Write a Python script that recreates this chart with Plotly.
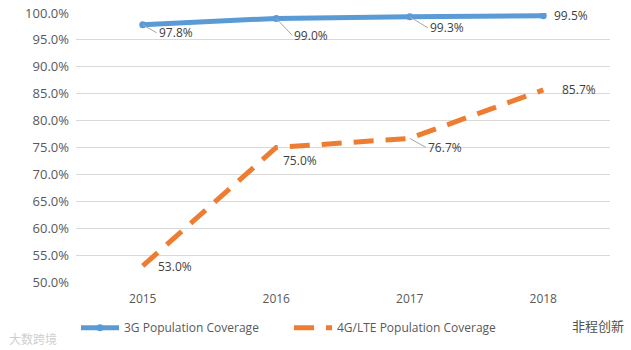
import plotly.graph_objects as go

years = ["2015", "2016", "2017", "2018"]
cov_3g = [97.8, 99.0, 99.3, 99.5]
cov_4g = [53.0, 75.0, 76.7, 85.7]
name_3g = "3G Population Coverage"
name_4g = "4G/LTE Population Coverage"
y_ticks = [50, 55, 60, 65, 70, 75, 80, 85, 90, 95, 100]

blue = "#5B9BD5"
orange = "#ED7D31"
grey_text = "#595959"

fig = go.Figure()
fig.add_trace(go.Scatter(
    x=years, y=cov_3g, name=name_3g, mode="lines+markers",
    line=dict(color=blue, width=5), marker=dict(size=7, color=blue),
))
fig.add_trace(go.Scatter(
    x=years, y=cov_4g, name=name_4g, mode="lines",
    line=dict(color=orange, width=5, dash="20px,12px"),
))

# data labels (pixel offsets relative to points)
offs_3g = [(14, 8, True), (16, 17, True), (18, 11, True), (28, 0, False)]
offs_4g = [(32, 1, False), (24, 13, False), (16, 9, True), (36, 0, False)]
for vals, offs in ((cov_3g, offs_3g), (cov_4g, offs_4g)):
    for i, (v, (dx, dy, arrow)) in enumerate(zip(vals, offs)):
        if arrow:
            fig.add_annotation(x=i, y=v, text=f"{v:.1f}%", showarrow=True,
                               arrowhead=0, arrowwidth=1, arrowcolor="#A6A6A6",
                               ax=dx, ay=dy, xanchor="left", yanchor="middle",
                               font=dict(size=12, color="#404040"))
        else:
            fig.add_annotation(x=i, y=v, text=f"{v:.1f}%", showarrow=False,
                               xshift=dx, yshift=-dy, xanchor="center",
                               font=dict(size=12, color="#404040"))

# watermarks
fig.add_annotation(xref="paper", yref="paper", x=-0.13, y=-0.21, text="大数跨境",
                   showarrow=False, xanchor="left", yanchor="middle",
                   font=dict(size=12, color="#D0D0D0", family="Noto Sans CJK SC"))
fig.add_annotation(xref="paper", yref="paper", x=1.03, y=-0.16, text="非程创新",
                   showarrow=False, xanchor="right", yanchor="middle",
                   font=dict(size=13, color="#505050", family="Noto Sans CJK SC"))

fig.update_layout(
    width=631, height=350,
    margin=dict(l=76, r=21, t=13, b=68, autoexpand=False),
    paper_bgcolor="white", plot_bgcolor="white",
    font=dict(family="Open Sans, sans-serif", size=12, color=grey_text),
    showlegend=True,
    legend=dict(orientation="h", x=0.0, xanchor="left", y=-0.17, yanchor="middle",
                font=dict(size=12, color=grey_text), itemwidth=38,
                entrywidth=160, entrywidthmode="pixels",
                tracegroupgap=0),
    xaxis=dict(type="category", range=[-0.5, 3.5], showgrid=False, zeroline=False,
               showline=False, ticks="", ticklabelstandoff=8,
               tickfont=dict(size=12, color=grey_text)),
    yaxis=dict(range=[50, 100], tickvals=y_ticks,
               ticktext=[f"{t:.1f}%" for t in y_ticks],
               showgrid=True, gridcolor="#D9D9D9", gridwidth=1, zeroline=False,
               showline=False, ticks="", ticklabelstandoff=6,
               tickfont=dict(size=13, color=grey_text)),
)

fig.write_html("out.html")
